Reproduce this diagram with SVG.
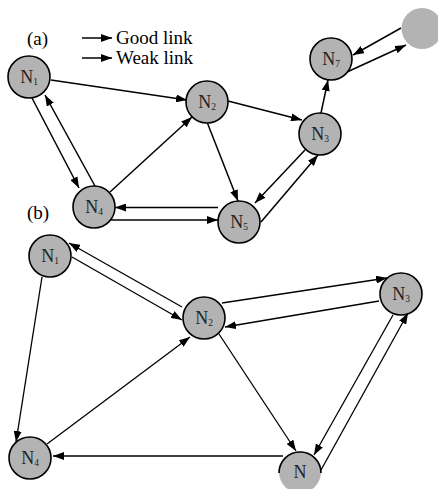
<svg xmlns="http://www.w3.org/2000/svg" width="438" height="489" viewBox="0 0 438 489">
<style>
.node{fill:#b3b3b3;stroke:#000;stroke-width:1.6}
.lbl{font-family:"Liberation Serif","Times New Roman",serif;font-size:18px;fill:#222;text-anchor:middle}
.sub{font-size:9.5px}
.txt{font-family:"Liberation Serif","Times New Roman",serif;font-size:19px;fill:#000}
.e{stroke:#000;stroke-width:1.5;fill:none;marker-end:url(#ah)}
.eb{stroke:#000;stroke-width:1.3;fill:none;marker-end:url(#ah)}
</style>
<defs>
<marker id="ah" markerUnits="userSpaceOnUse" markerWidth="11" markerHeight="8" refX="11" refY="4" orient="auto">
<path d="M0,0 L11,4 L0,8 z" fill="#000"/>
</marker>
</defs>
<rect width="438" height="489" fill="#fff"/>
<g id="legend">
<text class="txt" x="27" y="45">(a)</text>
<line class="e" x1="82" y1="38" x2="112" y2="38" stroke-width="2"/>
<text class="txt" x="116" y="44">Good link</text>
<line class="e" x1="82" y1="58" x2="112" y2="58" stroke-width="2"/>
<text class="txt" x="116" y="64">Weak link</text>
<text class="txt" x="27" y="219">(b)</text>
</g>
<g id="connectors">
<line class="e" x1="51" y1="80" x2="187" y2="100"/>
<line class="e" x1="32" y1="98" x2="79" y2="188"/>
<line class="e" x1="95" y1="186" x2="45" y2="95"/>
<line class="e" x1="110" y1="192" x2="192" y2="117"/>
<line class="e" x1="207" y1="122" x2="238" y2="201"/>
<line class="e" x1="228" y1="101" x2="302" y2="120"/>
<line class="e" x1="321" y1="113" x2="328" y2="80"/>
<line class="e" x1="401" y1="28" x2="353" y2="55"/>
<line class="e" x1="347" y1="72" x2="406" y2="45"/>
<line class="e" x1="305" y1="150" x2="255" y2="203"/>
<line class="e" x1="261" y1="222" x2="318" y2="155"/>
<line class="e" x1="218" y1="207.5" x2="115" y2="207.5"/>
<line class="e" x1="109" y1="220" x2="218" y2="220"/>

<line class="eb" x1="182" y1="307" x2="69" y2="243"/>
<line class="eb" x1="72" y1="257" x2="182" y2="320"/>
<line class="eb" x1="42" y1="277" x2="16" y2="442"/>
<line class="eb" x1="47" y1="444" x2="190" y2="337"/>
<line class="eb" x1="283" y1="456" x2="53" y2="456"/>
<line class="eb" x1="219" y1="334" x2="296" y2="451"/>
<line class="eb" x1="222" y1="303" x2="387" y2="278"/>
<line class="eb" x1="379" y1="301" x2="225" y2="327"/>
<line class="eb" x1="393" y1="315" x2="314" y2="455"/>
<line class="eb" x1="321" y1="470" x2="408" y2="313"/>
</g>
<g id="a-N1"><circle class="node" cx="29" cy="77" r="21"/><text class="lbl" x="29" y="83">N<tspan class="sub" dy="2">1</tspan></text></g>
<g id="a-N2"><circle class="node" cx="207" cy="102" r="21"/><text class="lbl" x="207" y="108">N<tspan class="sub" dy="2">2</tspan></text></g>
<g id="a-N3"><circle class="node" cx="320" cy="134" r="21"/><text class="lbl" x="320" y="140">N<tspan class="sub" dy="2">3</tspan></text></g>
<g id="a-N4"><circle class="node" cx="94" cy="207" r="21"/><text class="lbl" x="94" y="213">N<tspan class="sub" dy="2">4</tspan></text></g>
<g id="a-N5"><circle class="node" cx="239" cy="222" r="21"/><text class="lbl" x="239" y="228">N<tspan class="sub" dy="2">5</tspan></text></g>
<g id="a-N7"><circle class="node" cx="331" cy="59" r="21"/><text class="lbl" x="331" y="65">N<tspan class="sub" dy="2">7</tspan></text></g>
<g id="a-N8"><circle cx="422" cy="28.5" r="20.5" fill="#b3b3b3"/></g>
<g id="b-N1"><circle class="node" cx="50" cy="256" r="21"/><text class="lbl" x="50" y="262">N<tspan class="sub" dy="2">1</tspan></text></g>
<g id="b-N2"><circle class="node" cx="204" cy="318" r="21"/><text class="lbl" x="204" y="324">N<tspan class="sub" dy="2">2</tspan></text></g>
<g id="b-N3"><circle class="node" cx="401" cy="294" r="21"/><text class="lbl" x="401" y="300">N<tspan class="sub" dy="2">3</tspan></text></g>
<g id="b-N4"><circle class="node" cx="30" cy="458" r="21"/><text class="lbl" x="30" y="464">N<tspan class="sub" dy="2">4</tspan></text></g>
<g id="b-N"><circle cx="300" cy="472" r="21" fill="#b3b3b3"/><path d="M279,473 A21,21 0 0 1 321,473" fill="none" stroke="#000" stroke-width="1.6"/><text class="lbl" x="300" y="478">N</text></g>
</svg>
